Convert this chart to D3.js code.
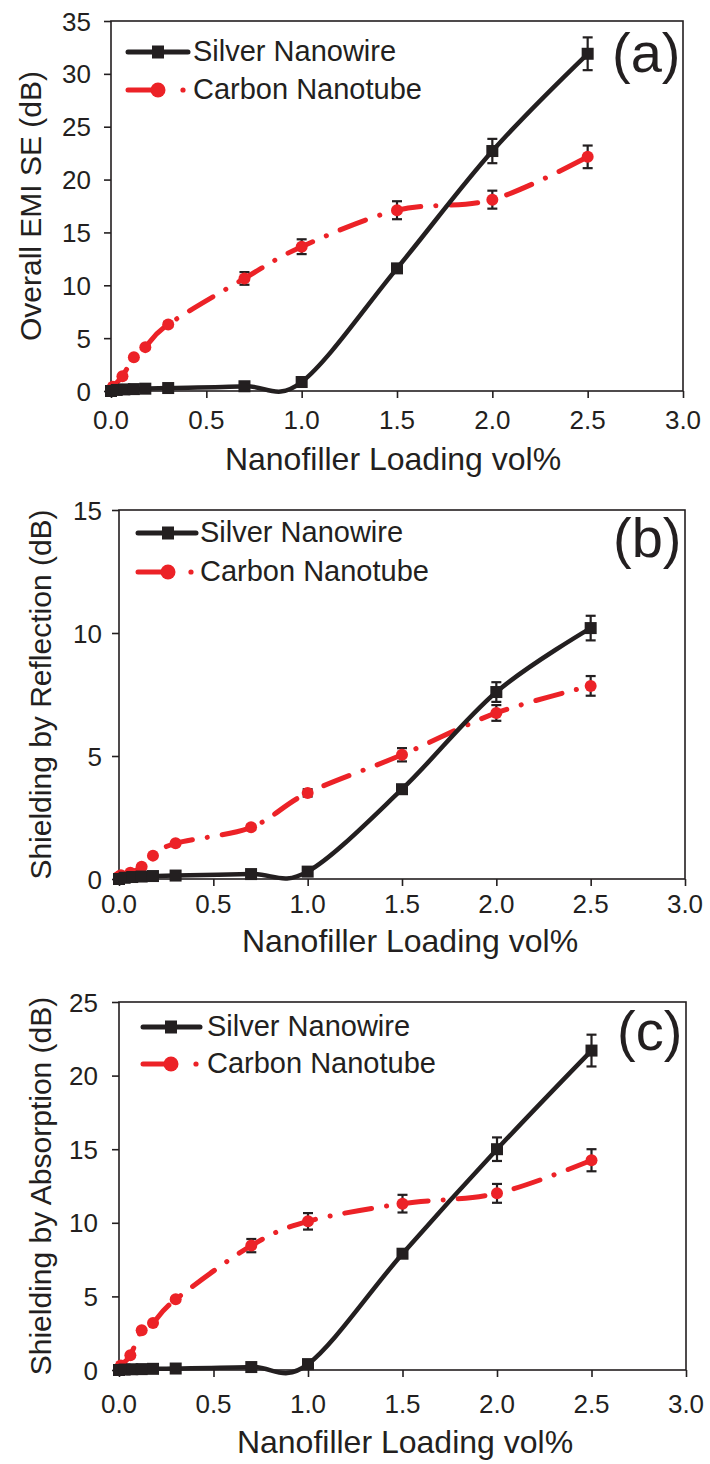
<!DOCTYPE html>
<html>
<head>
<meta charset="utf-8">
<script src="https://cdn.jsdelivr.net/npm/d3@7"></script>
<style>
  html, body { margin: 0; padding: 0; background: #fff; }
  svg { display: block; }
  text { font-family: "Liberation Sans", Arial, Helvetica, sans-serif; fill: #231f20; }
</style>
</head>
<body>
<div id="chart"></div>
<script>
// ---------------- DATA ----------------
const xTicks = [0, 0.5, 1.0, 1.5, 2.0, 2.5, 3.0];
const xTickLabels = ["0.0", "0.5", "1.0", "1.5", "2.0", "2.5", "3.0"];
const xTitle = "Nanofiller Loading vol%";
const seriesNames = ["Silver Nanowire", "Carbon Nanotube"];
const panelTags = ["(a)", "(b)", "(c)"];
const yTitles = ["Overall EMI SE (dB)", "Shielding by Reflection (dB)", "Shielding by Absorption (dB)"];
const yMaxes = [35, 15, 25];
const yTickSteps = [5, 5, 5];

// Silver nanowire loadings (vol%)
const agX = [0, 0.03, 0.07, 0.12, 0.18, 0.3, 0.7, 1.0, 1.5, 2.0, 2.5];
// Carbon nanotube loadings (vol%)
const cntX = [0, 0.01, 0.06, 0.12, 0.18, 0.3, 0.7, 1.0, 1.5, 2.0, 2.5];

// (a) Overall EMI SE
const agA = [0, 0.1, 0.15, 0.18, 0.22, 0.28, 0.45, 0.85, 11.6, 22.7, 31.9];
const agErrA = [0, 0, 0, 0, 0, 0, 0.1, 0.15, 0.3, 1.15, 1.55];
const cntA = [0, 0.4, 1.4, 3.2, 4.15, 6.3, 10.65, 13.65, 17.1, 18.1, 22.15];
const cntErrA = [0, 0, 0, 0.1, 0.1, 0.2, 0.6, 0.7, 0.85, 0.85, 1.07];

// (b) Shielding by Reflection
const agB = [0, 0.05, 0.08, 0.1, 0.12, 0.14, 0.2, 0.3, 3.65, 7.6, 10.2];
const agErrB = [0, 0, 0, 0, 0, 0, 0.05, 0.1, 0.15, 0.4, 0.5];
const cntB = [0.1, 0.15, 0.25, 0.5, 0.95, 1.45, 2.1, 3.5, 5.05, 6.75, 7.85];
const cntErrB = [0, 0, 0, 0, 0, 0.05, 0.1, 0.15, 0.27, 0.32, 0.4];

// (c) Shielding by Absorption
const agC = [0, 0.03, 0.05, 0.06, 0.08, 0.1, 0.2, 0.4, 7.9, 15.0, 21.7];
const agErrC = [0, 0, 0, 0, 0, 0, 0.05, 0.1, 0.2, 0.8, 1.08];
const cntC = [0, 0.3, 1.0, 2.7, 3.2, 4.8, 8.45, 10.1, 11.3, 12.0, 14.25];
const cntErrC = [0, 0, 0, 0, 0, 0.1, 0.45, 0.56, 0.6, 0.64, 0.75];

const agVals = [agA, agB, agC];
const agErrs = [agErrA, agErrB, agErrC];
const cntVals = [cntA, cntB, cntC];
const cntErrs = [cntErrA, cntErrB, cntErrC];

// ---------------- LAYOUT ----------------
const layouts = [
  { left: 111, right: 683, top: 21, bottom: 391, xLabBase: 429, xTitleX: 393, xTitleBase: 470, yTitleX: 41, yLabGap: 20,
    tagX: 612, tagBase: 72, legLine0: 128, legMark: 158, legLine1: 188, legDot: 183, legText: 193, legY1: 52, legY2: 90 },
  { left: 119, right: 685, top: 510, bottom: 879, xLabBase: 913, xTitleX: 410, xTitleBase: 952, yTitleX: 51, yLabGap: 17,
    tagX: 613, tagBase: 557, legLine0: 138, legMark: 168, legLine1: 196, legDot: 191, legText: 200, legY1: 533, legY2: 572 },
  { left: 119, right: 686, top: 1002, bottom: 1370, xLabBase: 1413, xTitleX: 405, xTitleBase: 1453, yTitleX: 51, yLabGap: 21,
    tagX: 617, tagBase: 1050, legLine0: 143, legMark: 171, legLine1: 200, legDot: 196, legText: 207, legY1: 1027, legY2: 1064 }
];

const INK = "#231f20";
const RED = "#ec2227";

const svg = d3.select("#chart").append("svg")
  .attr("width", 710).attr("height", 1464);

layouts.forEach((L, pi) => {
  const x = d3.scaleLinear().domain([0, 3]).range([L.left, L.right]);
  const y = d3.scaleLinear().domain([0, yMaxes[pi]]).range([L.bottom, L.top]);
  const g = svg.append("g");

  // frame
  g.append("rect")
    .attr("x", L.left).attr("y", L.top)
    .attr("width", L.right - L.left).attr("height", L.bottom - L.top)
    .attr("fill", "none").attr("stroke", INK).attr("stroke-width", 1.6);

  // x axis
  const xAxis = d3.axisBottom(x).tickValues(xTicks).tickSize(7).tickFormat("");
  const gx = g.append("g").attr("transform", `translate(0,${L.bottom})`).call(xAxis);
  gx.select(".domain").remove();
  gx.selectAll(".tick line").attr("stroke", INK).attr("stroke-width", 1.6);
  g.selectAll(".xlab").data(xTicks).enter().append("text")
    .attr("x", d => x(d)).attr("y", L.xLabBase)
    .attr("text-anchor", "middle").attr("font-size", 26)
    .text((d, i) => xTickLabels[i]);

  // y axis
  const yTickVals = d3.range(0, yMaxes[pi] + 0.001, yTickSteps[pi]);
  const yAxis = d3.axisLeft(y).tickValues(yTickVals).tickSize(7).tickFormat("");
  const gy = g.append("g").attr("transform", `translate(${L.left},0)`).call(yAxis);
  gy.select(".domain").remove();
  gy.selectAll(".tick line").attr("stroke", INK).attr("stroke-width", 1.6);
  g.selectAll(".ylab").data(yTickVals).enter().append("text")
    .attr("x", L.left - L.yLabGap).attr("y", d => y(d))
    .attr("dy", "0.37em")
    .attr("text-anchor", "end").attr("font-size", 26)
    .text(d => d3.format("d")(d));

  // titles
  g.append("text")
    .attr("x", L.xTitleX).attr("y", L.xTitleBase)
    .attr("text-anchor", "middle").attr("font-size", 32)
    .text(xTitle);
  g.append("text")
    .attr("transform", `translate(${L.yTitleX},${(L.top + L.bottom) / 2}) rotate(-90)`)
    .attr("text-anchor", "middle").attr("font-size", 30)
    .text(yTitles[pi]);

  // panel tag
  g.append("text")
    .attr("x", L.tagX).attr("y", L.tagBase)
    .attr("font-size", 56)
    .text(panelTags[pi]);

  const line = d3.line().x(d => x(d[0])).y(d => y(d[1])).curve(d3.curveCatmullRom.alpha(0));

  const agPts = agX.map((v, i) => [v, agVals[pi][i], agErrs[pi][i]]);
  const cntPts = cntX.map((v, i) => [v, cntVals[pi][i], cntErrs[pi][i]]);

  // CNT line (dash-dot)
  g.append("path").datum(cntPts)
    .attr("d", line)
    .attr("fill", "none").attr("stroke", RED).attr("stroke-width", 5)
    .attr("stroke-linecap", "round")
    .attr("stroke-dasharray", "27,15,0.1,15");

  // Ag line (solid)
  g.append("path").datum(agPts)
    .attr("d", line)
    .attr("fill", "none").attr("stroke", INK).attr("stroke-width", 4.5)
    .attr("stroke-linejoin", "round");

  // error bars
  const errPts = cntPts.concat(agPts).filter(d => d[2] > 0);
  const eb = g.append("g").attr("stroke", INK).attr("stroke-width", 2.2);
  errPts.forEach(d => {
    const cx = x(d[0]), yt = y(d[1] + d[2]), yb = y(d[1] - d[2]);
    eb.append("line").attr("x1", cx).attr("x2", cx).attr("y1", yt).attr("y2", yb);
    eb.append("line").attr("x1", cx - 5).attr("x2", cx + 5).attr("y1", yt).attr("y2", yt);
    eb.append("line").attr("x1", cx - 5).attr("x2", cx + 5).attr("y1", yb).attr("y2", yb);
  });

  // markers
  g.selectAll(".cntm").data(cntPts).enter().append("circle")
    .attr("cx", d => x(d[0])).attr("cy", d => y(d[1])).attr("r", 6)
    .attr("fill", RED);
  g.selectAll(".agm").data(agPts).enter().append("rect")
    .attr("x", d => x(d[0]) - 6).attr("y", d => y(d[1]) - 6)
    .attr("width", 12).attr("height", 12)
    .attr("fill", INK);

  // legend
  const lg = g.append("g");
  lg.append("line").attr("x1", L.legLine0).attr("x2", L.legLine1)
    .attr("y1", L.legY1).attr("y2", L.legY1)
    .attr("stroke", INK).attr("stroke-width", 5).attr("stroke-linecap", "round");
  lg.append("rect").attr("x", L.legMark - 6).attr("y", L.legY1 - 6.5)
    .attr("width", 12).attr("height", 13).attr("fill", INK);
  lg.append("text").attr("x", L.legText).attr("y", L.legY1 + 9)
    .attr("font-size", 29).text(seriesNames[0]);

  lg.append("line").attr("x1", L.legLine0).attr("x2", L.legMark)
    .attr("y1", L.legY2).attr("y2", L.legY2)
    .attr("stroke", RED).attr("stroke-width", 5).attr("stroke-linecap", "round");
  lg.append("circle").attr("cx", L.legMark).attr("cy", L.legY2).attr("r", 7.5).attr("fill", RED);
  lg.append("circle").attr("cx", L.legDot).attr("cy", L.legY2).attr("r", 2.6).attr("fill", RED);
  lg.append("text").attr("x", L.legText).attr("y", L.legY2 + 9)
    .attr("font-size", 29).text(seriesNames[1]);
});
</script>
</body>
</html>
